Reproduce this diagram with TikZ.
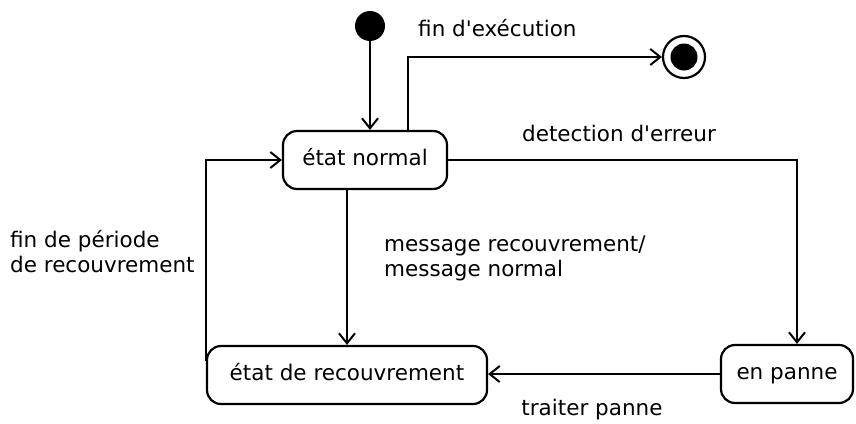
\documentclass[tikz,border=0pt]{standalone}
\usepackage{fontspec}
\setmainfont{DejaVu Sans}
\usetikzlibrary{arrows.meta,positioning}

\tikzset{
  statebox/.style={draw, line width=2.2pt, rounded corners=14pt, minimum height=58pt,
    inner sep=0pt, text height=15pt, text depth=4pt, font=\fontsize{21.5}{25}\selectfont},
  lbl/.style={inner sep=0pt, font=\fontsize{21.5}{25}\selectfont, align=left},
  trans/.style={line width=2.2pt, -{Straight Barb[length=10pt,width=16pt,line width=2pt]}},
}

\begin{document}
\begin{tikzpicture}[x=1pt,y=-1pt]
  \useasboundingbox (0,0) rectangle (856,423);

  % initial and final pseudo-states
  \node[circle, fill=black, minimum size=30pt, inner sep=0pt] (init) at (370,26) {};
  \node[circle, draw, line width=2.2pt, minimum size=42pt, inner sep=0pt] (final) at (684,57) {};
  \node[circle, fill=black, minimum size=27pt, inner sep=0pt] (finaldot) at (final) {};

  % states
  \node[statebox, minimum width=164pt] (normal) at (365,160) {état normal};
  \node[statebox, minimum width=280pt] (recouv) at (347,375) {état de recouvrement};
  \node[statebox, minimum width=132pt] (panne) at (787,374) {en panne};

  % transitions
  \draw[trans] (init) -- (init |- normal.north);
  \draw[trans] ([xshift=43pt]normal.north) |- (final.west);
  \draw[trans] (normal.east) -| ([xshift=10pt]panne.north);
  \draw[trans] (normal.south -| recouv.north) -- (recouv.north);
  \draw[trans] (panne.west) -- (recouv.east |- panne.west);
  \draw[trans] ([yshift=14pt]recouv.west) |- (normal.west);

  % labels
  \node[lbl, anchor=west] (lfin) at (418,28) {fin d\textquotesingle exécution};
  \node[lbl] (ldet) at (619,133) {detection d\textquotesingle erreur};
  \node[lbl, anchor=north west] (lmsg) at (384,236) {message recouvrement/\\message normal};
  \node[lbl, anchor=north west] (lper) at (10,230) {fin de période\\de recouvrement};
  \node[lbl] (ltrt) at (592,410) {traiter panne};
\end{tikzpicture}
\end{document}
